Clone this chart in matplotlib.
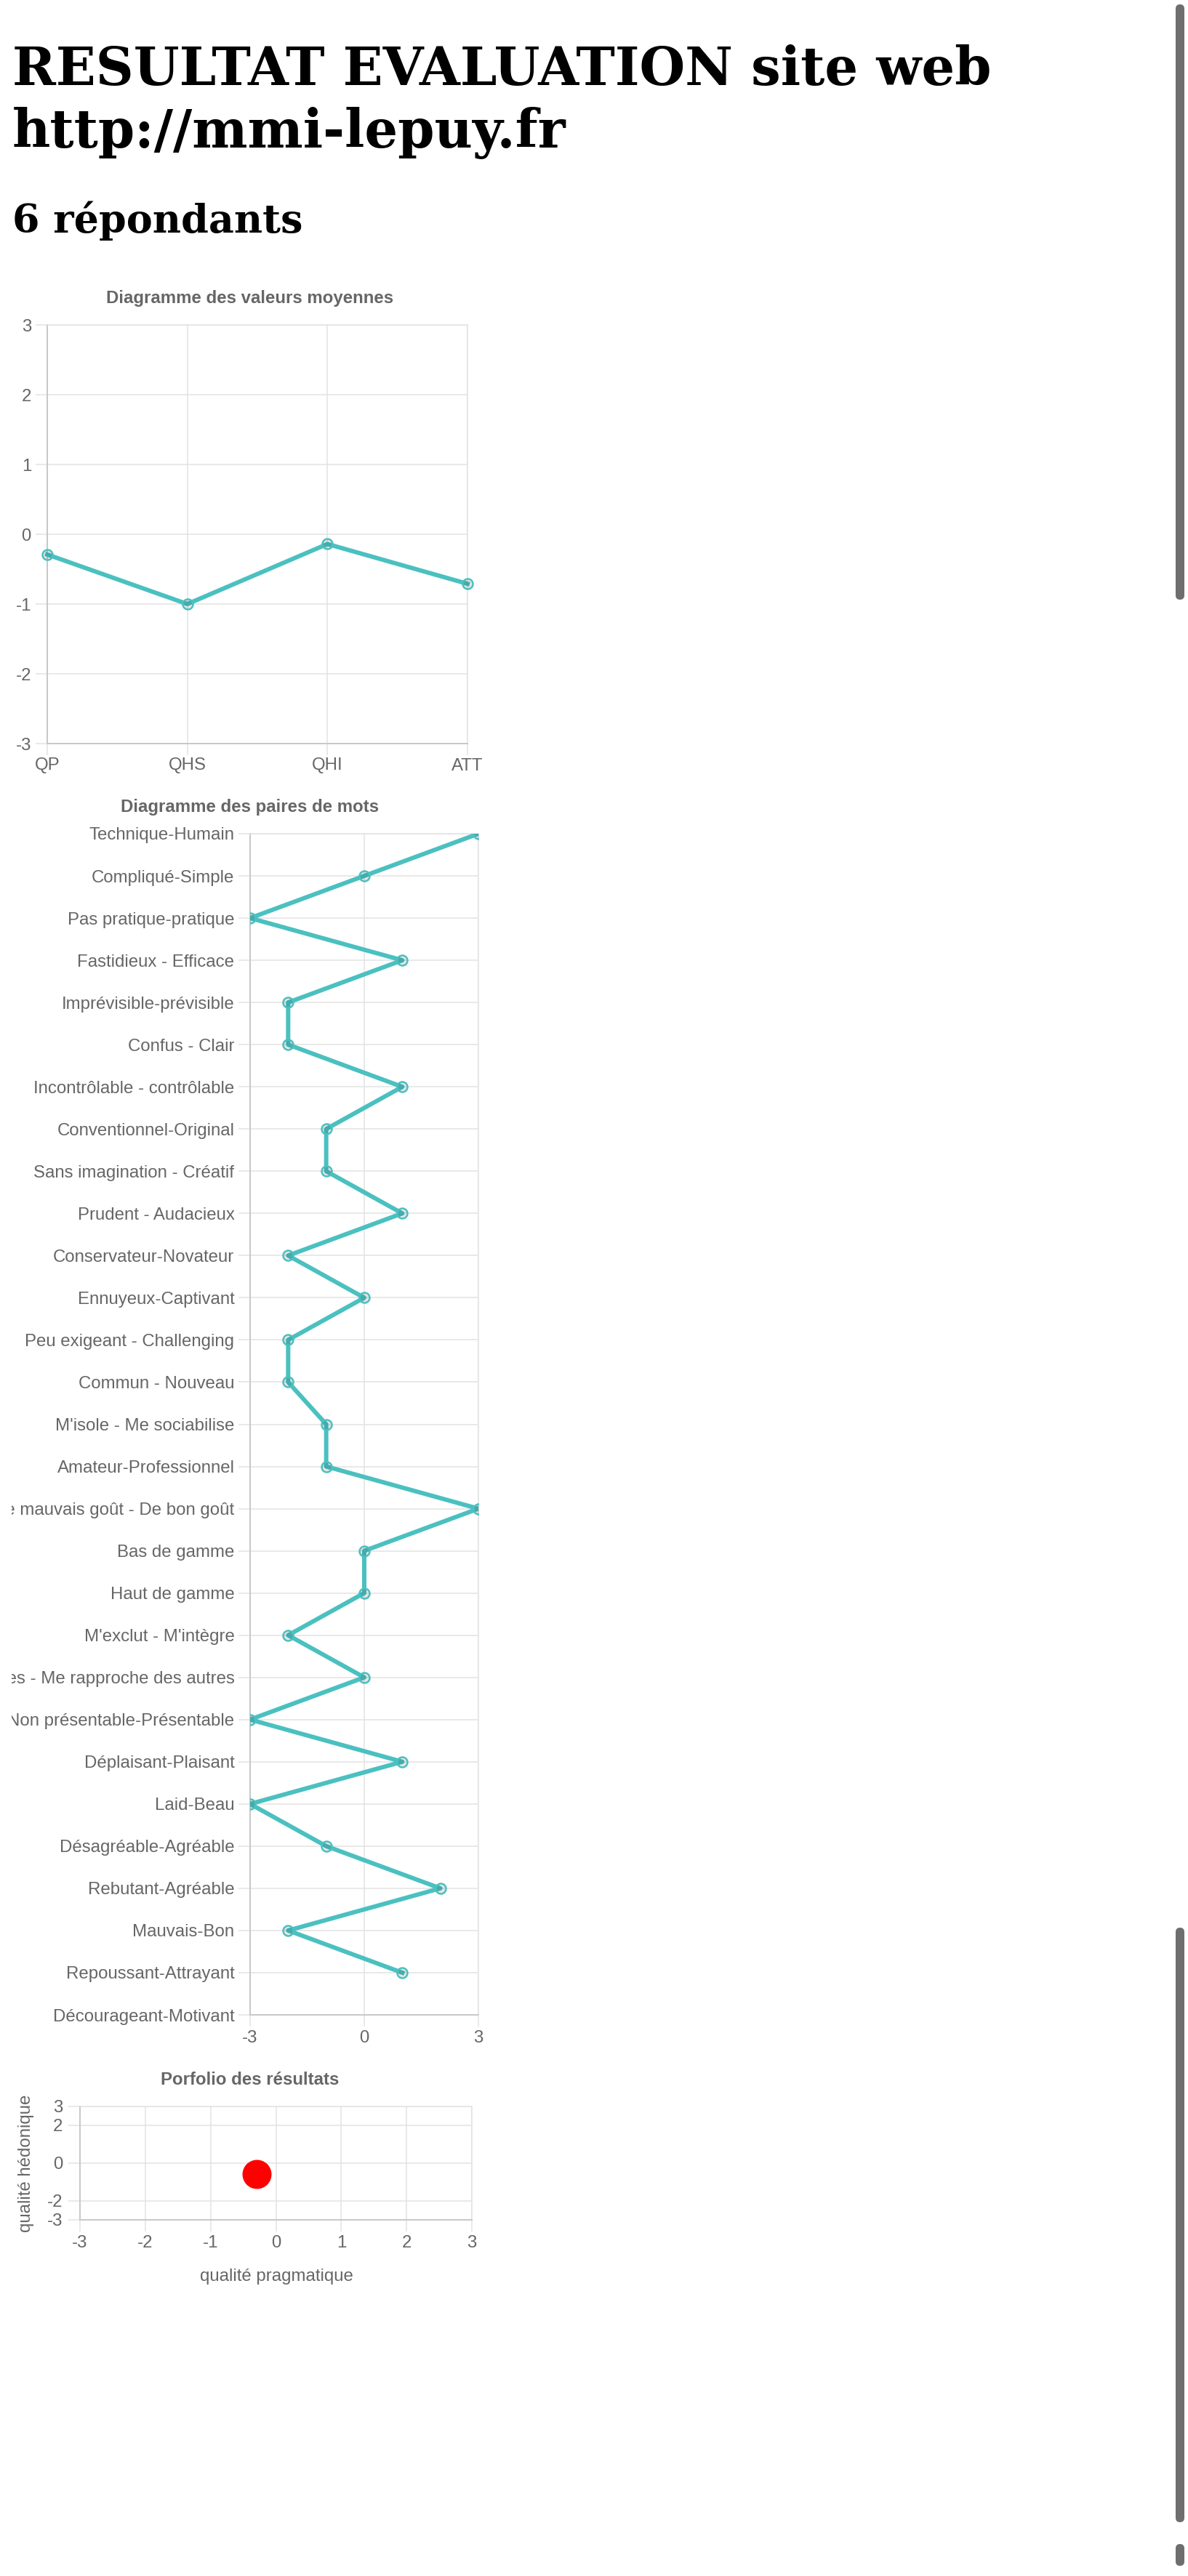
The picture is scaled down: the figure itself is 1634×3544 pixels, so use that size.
import numpy as np
import matplotlib
matplotlib.use("Agg")
import matplotlib.pyplot as plt
from matplotlib.transforms import Bbox, TransformedBbox, IdentityTransform
from matplotlib.patches import FancyBboxPatch

plt.rcParams["axes.unicode_minus"] = False

# ---------------- data ----------------
title_line1 = "RESULTAT EVALUATION site web"
title_line2 = "http://mmi-lepuy.fr"
subtitle = "6 répondants"

mean_categories = ["QP", "QHS", "QHI", "ATT"]
mean_values = [-0.29, -1.0, -0.14, -0.71]

pair_labels = [
    "Technique-Humain", "Compliqué-Simple", "Pas pratique-pratique",
    "Fastidieux - Efficace", "Imprévisible-prévisible", "Confus - Clair",
    "Incontrôlable - contrôlable", "Conventionnel-Original",
    "Sans imagination - Créatif", "Prudent - Audacieux",
    "Conservateur-Novateur", "Ennuyeux-Captivant",
    "Peu exigeant - Challenging", "Commun - Nouveau",
    "M'isole - Me sociabilise", "Amateur-Professionnel",
    "De mauvais goût - De bon goût", "Bas de gamme", "Haut de gamme",
    "M'exclut - M'intègre", "Me sépare des autres - Me rapproche des autres",
    "Non présentable-Présentable", "Déplaisant-Plaisant", "Laid-Beau",
    "Désagréable-Agréable", "Rebutant-Agréable", "Mauvais-Bon",
    "Repoussant-Attrayant", "Décourageant-Motivant",
]
pair_values = [3, 0, -3, 1, -2, -2, 1, -1, -1, 1, -2, 0, -2, -2, -1, -1,
               3, 0, 0, -2, 0, -3, 1, -3, -1, 2, -2, 1, None]

portfolio_x = [-0.29]
portfolio_y = [-0.57]
portfolio_xticks = [-3, -2, -1, 0, 1, 2, 3]
portfolio_yticks = [3, 2, 0, -2, -3]

# ---------------- styling ----------------
W, H = 1634, 3544
DPI = 100
PT = 72.0 / DPI  # points per pixel

TEAL = "#4bc0c0"
GRID = "#e2e2e2"
AXIS = "#c8c8c8"
TXT = "#666666"
FS = 24 * PT

fig = plt.figure(figsize=(W / DPI, H / DPI), dpi=DPI)
fig.patch.set_facecolor("white")


def ax_px(x0, y0, x1, y1):
    return fig.add_axes([x0 / W, 1 - y1 / H, (x1 - x0) / W, (y1 - y0) / H])


def ftext(x, y, s, **kw):
    return fig.text(x / W, 1 - y / H, s, **kw)


def style_axes(ax, pad_x, pad_y):
    ax.set_facecolor("white")
    for side in ("top", "right"):
        ax.spines[side].set_color(GRID)
        ax.spines[side].set_linewidth(1.5 * PT)
    for side in ("left", "bottom"):
        ax.spines[side].set_color(AXIS)
        ax.spines[side].set_linewidth(2 * PT)
    ax.grid(True, color=GRID, linewidth=1.5 * PT)
    ax.set_axisbelow(True)
    ax.tick_params(axis="both", length=16 * PT, width=1.5 * PT, color=GRID,
                   labelcolor=TXT, labelsize=FS)
    ax.tick_params(axis="x", pad=pad_x)
    ax.tick_params(axis="y", pad=pad_y)
    for lab in ax.get_xticklabels() + ax.get_yticklabels():
        lab.set_family("Liberation Sans")


line_kw = dict(color=TEAL, linewidth=6 * PT, marker="o",
               markersize=14 * PT, markerfacecolor=(0, 0, 0, 0.1),
               markeredgecolor=TEAL, markeredgewidth=2.5 * PT, zorder=3)

# ---------------- headings ----------------
head_kw = dict(family="DejaVu Serif", weight="bold", color="black",
               va="baseline", ha="left")
ftext(17, 117, title_line1, fontsize=72 * PT, **head_kw)
ftext(17, 203, title_line2, fontsize=72 * PT, **head_kw)
ftext(17, 320, subtitle, fontsize=54 * PT, **head_kw)

title_kw = dict(family="Liberation Sans", weight="bold", color=TXT,
                fontsize=FS, ha="center", va="center")

# ---------------- chart 1 : mean values ----------------
ftext(344, 410, "Diagramme des valeurs moyennes", **title_kw)
ax1 = ax_px(65, 447, 643, 1023)
x1 = np.arange(len(mean_categories))
ax1.plot(x1, mean_values, clip_on=False, **line_kw)
ax1.set_xlim(0, len(mean_categories) - 1)
ax1.set_ylim(-3, 3)
ax1.set_xticks(x1)
ax1.set_xticklabels(mean_categories)
ax1.set_yticks(np.arange(-3, 4))
style_axes(ax1, pad_x=3.5 * PT, pad_y=6 * PT)

# ---------------- chart 2 : word pairs ----------------
ftext(344, 1110, "Diagramme des paires de mots", **title_kw)
ax2 = ax_px(344, 1147, 658, 2772)
y2 = np.arange(len(pair_labels))
v2 = np.array([np.nan if v is None else v for v in pair_values], dtype=float)
ax2.plot(v2, y2, clip_on=True, **line_kw)
ax2.set_xlim(-3, 3)
ax2.set_ylim(len(pair_labels) - 1, 0)
ax2.set_xticks([-3, 0, 3])
ax2.set_yticks(y2)
ax2.set_yticklabels(pair_labels)
style_axes(ax2, pad_x=5 * PT, pad_y=5.5 * PT)
clip_box = TransformedBbox(Bbox([[16 / W, 0], [1, 1]]), fig.transFigure)
for lab in ax2.get_yticklabels():
    lab.set_clip_box(clip_box)
    lab.set_clip_on(True)

# ---------------- chart 3 : portfolio ----------------
ftext(344, 2861, "Porfolio des résultats", **title_kw)
ax3 = ax_px(110, 2898, 649, 3054)
ax3.plot(portfolio_x, portfolio_y, linestyle="none", marker="o",
         markersize=40 * PT, color="#ff0000", markeredgewidth=0, zorder=3)
ax3.set_xlim(-3, 3)
ax3.set_ylim(-3, 3)
ax3.set_xticks(portfolio_xticks)
ax3.set_yticks(portfolio_yticks)
style_axes(ax3, pad_x=5 * PT, pad_y=8 * PT)
ftext(380, 3132, "qualité pragmatique", family="Liberation Sans",
      color=TXT, fontsize=FS, ha="center", va="center")
ftext(36, 2976, "qualité hédonique", family="Liberation Sans",
      color=TXT, fontsize=FS, ha="center", va="center", rotation=90)

# ---------------- browser scrollbars (screenshot chrome) ----------------
for (yt, yb) in [(6, 825), (2652, 3470), (3500, 3530)]:
    p = FancyBboxPatch((1617, H - yb), 12, yb - yt,
                       boxstyle="round,pad=0,rounding_size=6",
                       transform=IdentityTransform(), facecolor="#6e6e6e",
                       edgecolor="none")
    fig.patches.append(p)

fig.savefig("out.png", dpi=DPI, facecolor="white")
